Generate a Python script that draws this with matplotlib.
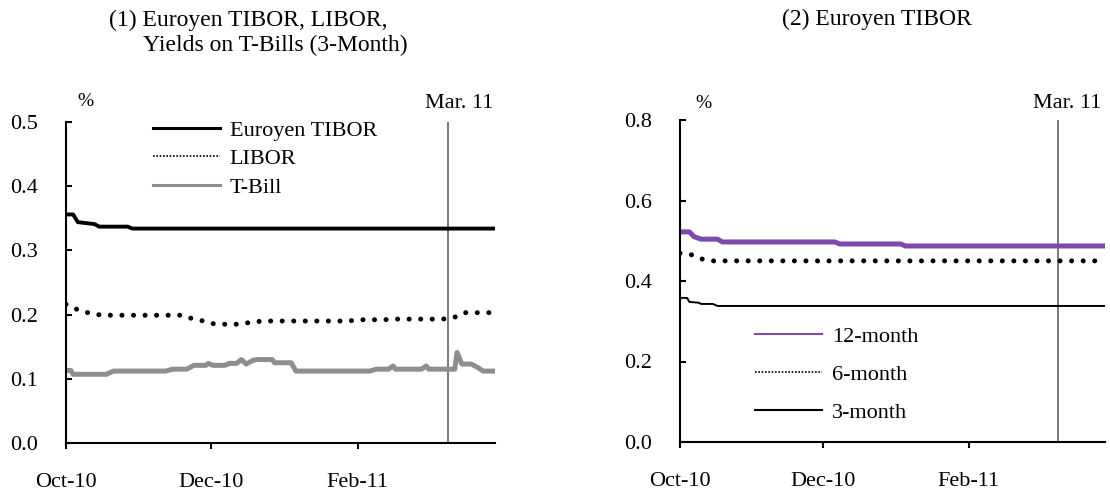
import matplotlib.pyplot as plt
from matplotlib.lines import Line2D
import numpy as np
import pandas as pd

plt.rcParams['font.family'] = ['Liberation Serif', 'DejaVu Serif']
plt.rcParams['font.size'] = 16

# ---- data (values in %) ----
tibor_dates = ['2010-10-01', '2010-10-04', '2010-10-06', '2010-10-13', '2010-10-15',
               '2010-10-27', '2010-10-29', '2011-03-31']
tibor_vals = [0.356, 0.356, 0.344, 0.341, 0.337, 0.337, 0.334, 0.334]

libor_dates = ['2010-10-01', '2010-10-05', '2010-10-09', '2010-10-14', '2010-10-19',
               '2010-11-19', '2010-11-23', '2010-11-28', '2010-12-03', '2010-12-13',
               '2010-12-18', '2010-12-23', '2011-01-28', '2011-02-02', '2011-02-12',
               '2011-02-17', '2011-03-09', '2011-03-14', '2011-03-18', '2011-03-31']
libor_vals = [0.216, 0.209, 0.204, 0.200, 0.199, 0.199, 0.194, 0.190, 0.185, 0.185,
              0.188, 0.190, 0.190, 0.192, 0.192, 0.193, 0.193, 0.196, 0.203, 0.203]

tbill_dates = ['2010-10-01', '2010-10-03', '2010-10-04', '2010-10-18', '2010-10-21',
               '2010-11-12', '2010-11-15', '2010-11-21', '2010-11-24', '2010-11-29',
               '2010-11-30', '2010-12-02', '2010-12-07', '2010-12-09', '2010-12-12',
               '2010-12-14', '2010-12-16', '2010-12-19', '2010-12-21', '2010-12-27',
               '2010-12-28', '2011-01-04', '2011-01-06', '2011-02-06', '2011-02-09',
               '2011-02-14', '2011-02-16', '2011-02-17', '2011-02-28', '2011-03-02',
               '2011-03-03', '2011-03-14', '2011-03-15', '2011-03-17', '2011-03-21',
               '2011-03-24', '2011-03-26', '2011-03-31']
tbill_vals = [0.113, 0.113, 0.107, 0.107, 0.112, 0.112, 0.115, 0.115, 0.121, 0.121,
              0.124, 0.121, 0.121, 0.124, 0.124, 0.130, 0.123, 0.129, 0.130, 0.130,
              0.125, 0.125, 0.112, 0.112, 0.115, 0.115, 0.120, 0.115, 0.115, 0.120,
              0.115, 0.115, 0.141, 0.123, 0.123, 0.117, 0.112, 0.112]

m12_dates = ['2010-10-01', '2010-10-05', '2010-10-07', '2010-10-10', '2010-10-17',
             '2010-10-19', '2010-12-06', '2010-12-08', '2011-01-03', '2011-01-05', '2011-03-31']
m12_vals = [0.522, 0.522, 0.510, 0.504, 0.504, 0.497, 0.497, 0.492, 0.492, 0.487, 0.487]

m6_dates = ['2010-10-01', '2010-10-06', '2010-10-10', '2010-10-15', '2011-03-31']
m6_vals = [0.469, 0.465, 0.455, 0.450, 0.450]

m3_dates = ['2010-10-01', '2010-10-04', '2010-10-05', '2010-10-09', '2010-10-10',
            '2010-10-15', '2010-10-17', '2011-03-31']
m3_vals = [0.358, 0.358, 0.348, 0.346, 0.343, 0.343, 0.338, 0.338]

xtick_dates = ['2010-10-01', '2010-12-01', '2011-02-01']
xtick_labels = ['Oct-10', 'Dec-10', 'Feb-11']
event_date = '2011-03-11'

W, H = 1110, 495
fig = plt.figure(figsize=(W / 100, H / 100), dpi=100)

def fx(x):
    return x / W

def fy(y):
    return 1 - y / H

ax1 = fig.add_axes([fx(66), fy(443), fx(495 - 66), (443 - 122) / H])
ax2 = fig.add_axes([fx(680), fy(442), fx(1105 - 680), (442 - 120) / H])

dot = (0, (0.01, 2.3))
purple = '#7d4aab'
grey = '#8e8e8e'

ax1.plot(pd.to_datetime(tbill_dates), tbill_vals, color=grey, lw=3.6, solid_joinstyle='round')
ax1.plot(pd.to_datetime(libor_dates), libor_vals, color='black', lw=3.6,
         linestyle=dot, dash_capstyle='round')
ax1.plot(pd.to_datetime(tibor_dates), tibor_vals, color='black', lw=2.8)

ax2.plot(pd.to_datetime(m12_dates), m12_vals, color=purple, lw=3.6)
ax2.plot(pd.to_datetime(m6_dates), m6_vals, color='black', lw=3.6,
         linestyle=dot, dash_capstyle='round')
ax2.plot(pd.to_datetime(m3_dates), m3_vals, color='black', lw=1.4)

for ax, ymax, step in [(ax1, 0.5, 0.1), (ax2, 0.8, 0.2)]:
    ax.axvline(pd.Timestamp(event_date), color='#6e6e6e', lw=1.3, zorder=0)
    ax.set_xlim(pd.Timestamp('2010-10-01'), pd.Timestamp('2011-03-31'))
    ax.set_ylim(0, ymax)
    ax.set_yticks(np.round(np.arange(0, ymax + step / 2, step), 1))
    ax.yaxis.set_major_formatter(plt.FormatStrFormatter('%.1f'))
    ax.set_xticks(pd.to_datetime(xtick_dates))
    ax.set_xticklabels(xtick_labels)
    for s in ['top', 'right']:
        ax.spines[s].set_visible(False)
    for s in ['left', 'bottom']:
        ax.spines[s].set_linewidth(1.5)
    ax.tick_params(axis='y', direction='in', length=4, width=1.5, pad=20)
    ax.tick_params(axis='x', direction='out', length=4, width=1.5, pad=17.5)
    ax.set_facecolor('none')

leg1 = [Line2D([], [], color='black', lw=2.2),
        Line2D([], [], color='black', lw=1.2, linestyle=(0, (1, 1))),
        Line2D([], [], color=grey, lw=2.2)]
ax1.legend(leg1, ['Euroyen TIBOR', 'LIBOR', 'T-Bill'], loc='upper left',
           bbox_to_anchor=(fx(153), fy(120)), bbox_transform=fig.transFigure,
           frameon=False, handlelength=3.0, handletextpad=0.45, labelspacing=0.36,
           borderpad=0, borderaxespad=0)

leg2 = [Line2D([], [], color=purple, lw=1.5),
        Line2D([], [], color='black', lw=1.2, linestyle=(0, (1, 1))),
        Line2D([], [], color='black', lw=1.5)]
ax2.legend(leg2, ['12-month', '6-month', '3-month'], loc='upper left',
           bbox_to_anchor=(fx(755), fy(326)), bbox_transform=fig.transFigure,
           frameon=False, handlelength=3.0, handletextpad=0.45, labelspacing=0.8,
           borderpad=0, borderaxespad=0)

fig.text(fx(109), fy(20), '(1) Euroyen TIBOR, LIBOR,', ha='left', va='center', fontsize=17)
fig.text(fx(143), fy(45), 'Yields on T-Bills (3-Month)', ha='left', va='center', fontsize=17)
fig.text(fx(782), fy(19), '(2) Euroyen TIBOR', ha='left', va='center', fontsize=17)

fig.text(fx(85), fy(102), '%', ha='center', va='center', fontsize=14)
fig.text(fx(703), fy(104), '%', ha='center', va='center', fontsize=14)
fig.text(fx(493), fy(104), 'Mar. 11', ha='right', va='center')
fig.text(fx(1101), fy(104), 'Mar. 11', ha='right', va='center')

fig.savefig('out.png', dpi=100)
